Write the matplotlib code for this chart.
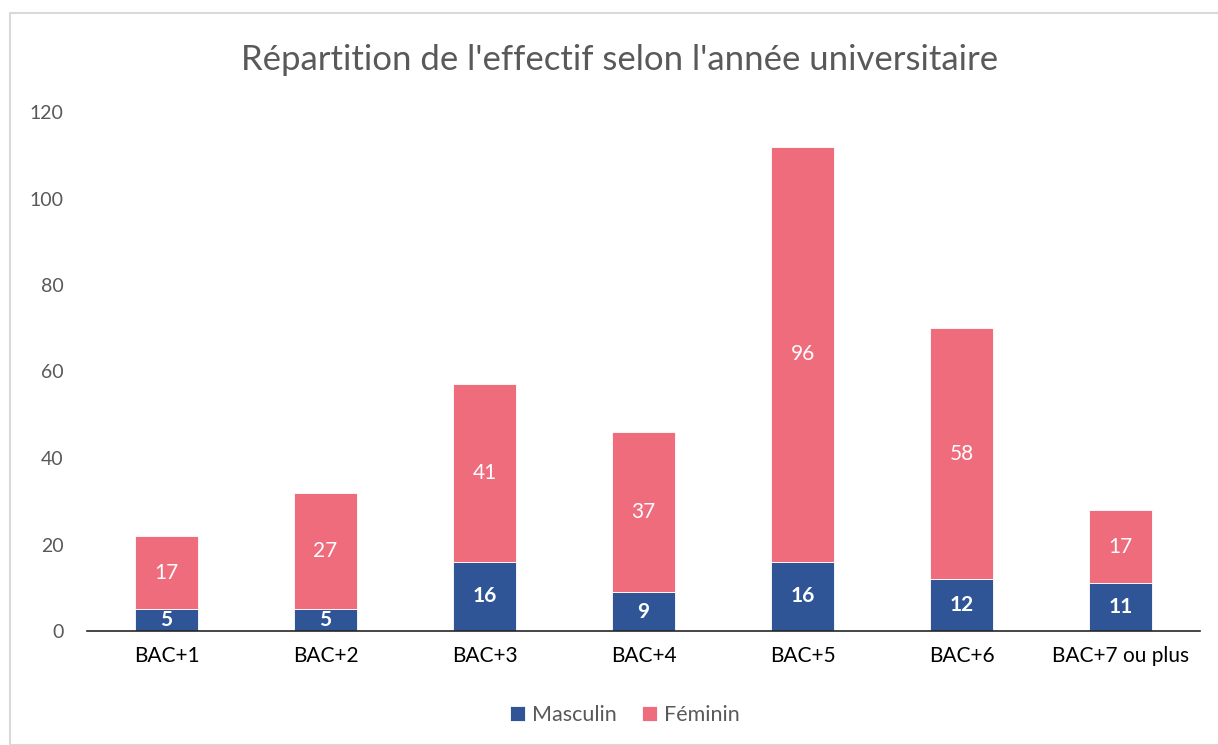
import numpy as np
import matplotlib.pyplot as plt
from matplotlib.patches import Rectangle

plt.rcParams['font.family'] = ['Lato', 'DejaVu Sans']

categories = ['BAC+1', 'BAC+2', 'BAC+3', 'BAC+4', 'BAC+5', 'BAC+6', 'BAC+7 ou plus']
masculin = [5, 5, 16, 9, 16, 12, 11]
feminin = [17, 27, 41, 37, 96, 58, 17]

blue = '#2F5597'
pink = '#EF6C7D'
grey = '#595959'

fig = plt.figure(figsize=(12.18, 7.45), dpi=100)
fig.patches.append(Rectangle((10 / 1218, 0), 1.0, 1 - 13 / 745, transform=fig.transFigure,
                             fill=False, edgecolor='#D9D9D9', linewidth=1.5))
ax = fig.add_axes([87 / 1218, 114 / 745, 1113 / 1218, 519 / 745])

x = np.arange(len(categories))
b1 = ax.bar(x, masculin, width=0.4, color=blue, edgecolor='white', linewidth=0.6, label='Masculin')
b2 = ax.bar(x, feminin, width=0.4, bottom=masculin, color=pink, edgecolor='white', linewidth=0.6, label='Féminin')

for i in range(len(categories)):
    ax.text(x[i], masculin[i] / 2, str(masculin[i]), ha='center', va='center',
            color='white', fontsize=15, fontweight='bold')
    ax.text(x[i], masculin[i] + feminin[i] / 2, str(feminin[i]), ha='center', va='center',
            color='white', fontsize=15)

ax.set_xlim(-0.5, len(categories) - 0.5)
ax.set_ylim(0, 120)
ax.set_yticks(range(0, 121, 20))
ax.set_xticks(x)
ax.set_xticklabels(categories, fontsize=15, color='black')
ax.tick_params(axis='y', length=0, labelsize=14, labelcolor=grey, pad=17)
ax.tick_params(axis='x', length=0, pad=11)
for s in ['top', 'right', 'left']:
    ax.spines[s].set_visible(False)
ax.spines['bottom'].set_color('#262626')
ax.spines['bottom'].set_linewidth(1.2)

fig.text(0.509, 1 - 60 / 745, "Répartition de l'effectif selon l'année universitaire",
         ha='center', va='center', fontsize=25, color=grey)

fig.legend(handles=[b1, b2], loc='center', bbox_to_anchor=(0.513, 1 - 715 / 745), ncol=2,
           frameon=False, fontsize=15.5, handlelength=0.7, handleheight=0.7,
           handletextpad=0.3, columnspacing=1.2, labelcolor=grey)

fig.savefig('out.png', dpi=100)
